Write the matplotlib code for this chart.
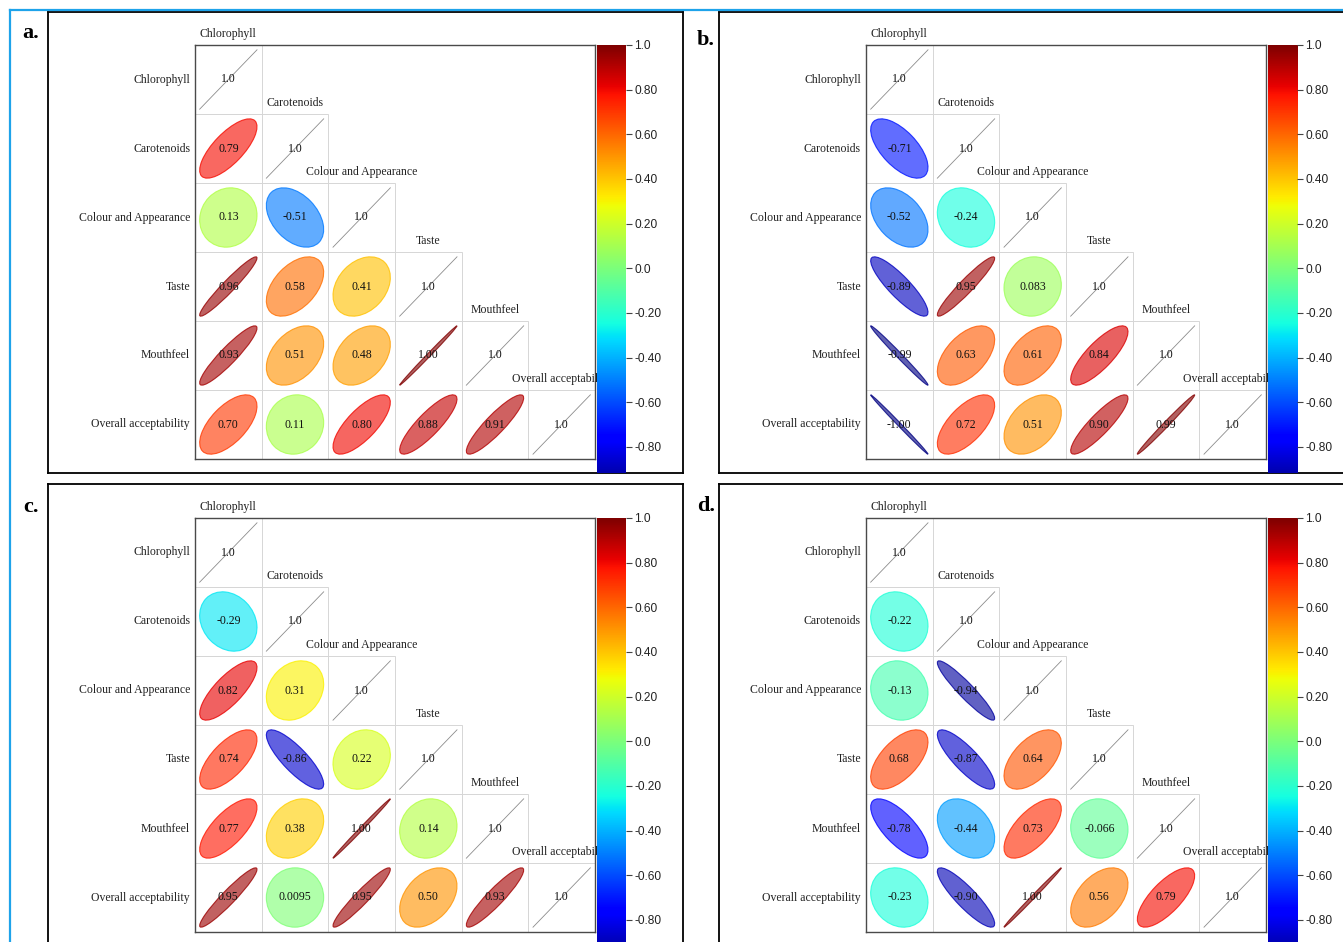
import matplotlib.pyplot as plt
import numpy as np
from matplotlib.patches import Ellipse, Rectangle
from matplotlib.lines import Line2D
from matplotlib.colors import Normalize

W, H = 1343, 942

variables = ["Chlorophyll", "Carotenoids", "Colour and Appearance",
             "Taste", "Mouthfeel", "Overall acceptability"]

# lower triangle of each correlation matrix, one list per row (rows 2..6)
corr_a = [["0.79"],
          ["0.13", "-0.51"],
          ["0.96", "0.58", "0.41"],
          ["0.93", "0.51", "0.48", "1.00"],
          ["0.70", "0.11", "0.80", "0.88", "0.91"]]
corr_b = [["-0.71"],
          ["-0.52", "-0.24"],
          ["-0.89", "0.95", "0.083"],
          ["-0.99", "0.63", "0.61", "0.84"],
          ["-1.00", "0.72", "0.51", "0.90", "0.99"]]
corr_c = [["-0.29"],
          ["0.82", "0.31"],
          ["0.74", "-0.86", "0.22"],
          ["0.77", "0.38", "1.00", "0.14"],
          ["0.95", "0.0095", "0.95", "0.50", "0.93"]]
corr_d = [["-0.22"],
          ["-0.13", "-0.94"],
          ["0.68", "-0.87", "0.64"],
          ["-0.78", "-0.44", "0.73", "-0.066"],
          ["-0.23", "-0.90", "1.00", "0.56", "0.79"]]
diag_label = "1.0"

panel_letters = ["a.", "b.", "c.", "d."]
cbar_ticks = [1.0, 0.8, 0.6, 0.4, 0.2, 0.0, -0.2, -0.4, -0.6, -0.8]
cbar_labels = ["1.0", "0.80", "0.60", "0.40", "0.20", "0.0",
               "-0.20", "-0.40", "-0.60", "-0.80"]

SERIF = "Liberation Serif"
SANS = "Liberation Sans"
cmap = plt.get_cmap("jet")
norm = Normalize(-1, 1)
SCALE = 0.43  # half size of an ellipse's bounding box, in cell units
FILL_ALPHA = 0.62


def fbox(x0, y0, x1, y1):
    # pixel box (top-left origin) -> figure fraction rect
    return [x0 / W, 1 - y1 / H, (x1 - x0) / W, (y1 - y0) / H]


def ellipse_axes(r):
    # full axis lengths of a 45-degree ellipse whose bounding box stays fixed;
    # it flattens towards a diagonal line as |r| -> 1
    f = max((1 - abs(r)) ** 0.6, 0.04)
    a = SCALE * np.sqrt(2 / (1 + f * f))
    return 2 * a, 2 * a * f


def draw_matrix(ax, rows):
    n = len(variables)
    ax.set_xlim(0, n)
    ax.set_ylim(0, n)
    ax.set_xticks([])
    ax.set_yticks([])
    for s in ax.spines.values():
        s.set_color("#4a4a4a")
        s.set_linewidth(1.0)

    for i in range(n):
        yc = n - i - 0.5
        for j in range(i + 1):
            xc = j + 0.5
            ax.add_patch(Rectangle((j, n - i - 1), 1, 1, fill=False,
                                   edgecolor="#d6d6d6", lw=0.7, zorder=1))
            if i == j:
                ax.add_line(Line2D([xc - SCALE, xc + SCALE], [yc - SCALE, yc + SCALE],
                                   color="#8c8c8c", lw=0.6, zorder=2))
                txt = diag_label
            else:
                txt = rows[i - 1][j]
                r = float(txt)
                c = cmap(norm(r))
                major, minor = ellipse_axes(r)
                ax.add_patch(Ellipse((xc, yc), width=major, height=minor,
                                     angle=45 if r >= 0 else -45,
                                     facecolor=(*c[:3], FILL_ALPHA),
                                     edgecolor=(*c[:3], 0.8), lw=0.8, zorder=2))
            ax.text(xc, yc, txt, ha="center", va="center", fontsize=8.5,
                    family=SERIF, color="#111111", zorder=3)

        ax.text(-0.075, yc, variables[i], ha="right", va="center",
                fontsize=8.5, family=SERIF, color="#222222")
        ax.text(i + 0.5, n - i + 0.16, variables[i], ha="center", va="center",
                fontsize=8.5, family=SERIF, color="#222222")


def draw_colorbar(cax, height_px):
    grad = np.linspace(-1, 1, 512)[:, None]
    cax.imshow(grad, aspect="auto", cmap=cmap, norm=norm,
               extent=(0, 1, -1, 1), origin="lower", interpolation="bilinear")
    cax.set_xlim(0, 1)
    cax.set_ylim(1.0 - height_px / 223.3, 1.0)
    for s in cax.spines.values():
        s.set_visible(False)
    cax.set_xticks([])
    cax.yaxis.tick_right()
    cax.set_yticks(cbar_ticks, cbar_labels)
    cax.tick_params(axis="y", length=4, width=0.8, color="#444444", pad=2,
                    labelsize=8.6, labelcolor="#222222")
    for lab in cax.get_yticklabels():
        lab.set_family(SANS)


fig = plt.figure(figsize=(W / 100, H / 100), dpi=100)

frames = [(48, 12, 683, 473), (719, 12, 1360, 473),
          (48, 484, 683, 960), (719, 484, 1360, 960)]
offsets = [(0, 0), (671, 0), (0, 473), (671, 473)]
cbar_bottoms = [473, 473, 942, 942]
letter_pos = [(31, 33), (706, 40), (31, 507), (706, 506)]
matrices = [corr_a, corr_b, corr_c, corr_d]

for k in range(4):
    fr = fig.add_axes(fbox(*frames[k]))
    fr.set_xticks([])
    fr.set_yticks([])
    for s in fr.spines.values():
        s.set_color("black")
        s.set_linewidth(1.3)

    dx, dy = offsets[k]
    ax = fig.add_axes(fbox(195 + dx, 45 + dy, 595 + dx, 459 + dy))
    draw_matrix(ax, matrices[k])

    top = 45 + dy
    cax = fig.add_axes(fbox(597 + dx, top, 626 + dx, cbar_bottoms[k]))
    draw_colorbar(cax, cbar_bottoms[k] - top)

    lx, ly = letter_pos[k]
    fig.text(lx / W, 1 - ly / H, panel_letters[k], ha="center", va="center",
             fontsize=16, fontweight="bold", family=SERIF)

# thin blue outline along the top and left edges
fig.add_artist(Line2D([10 / W, 10 / W], [0, 1 - 10 / H], color="#1ea3ea",
                      lw=1.6, transform=fig.transFigure))
fig.add_artist(Line2D([10 / W, 1], [1 - 10 / H, 1 - 10 / H], color="#1ea3ea",
                      lw=1.6, transform=fig.transFigure))

fig.savefig("out.png", dpi=100)
